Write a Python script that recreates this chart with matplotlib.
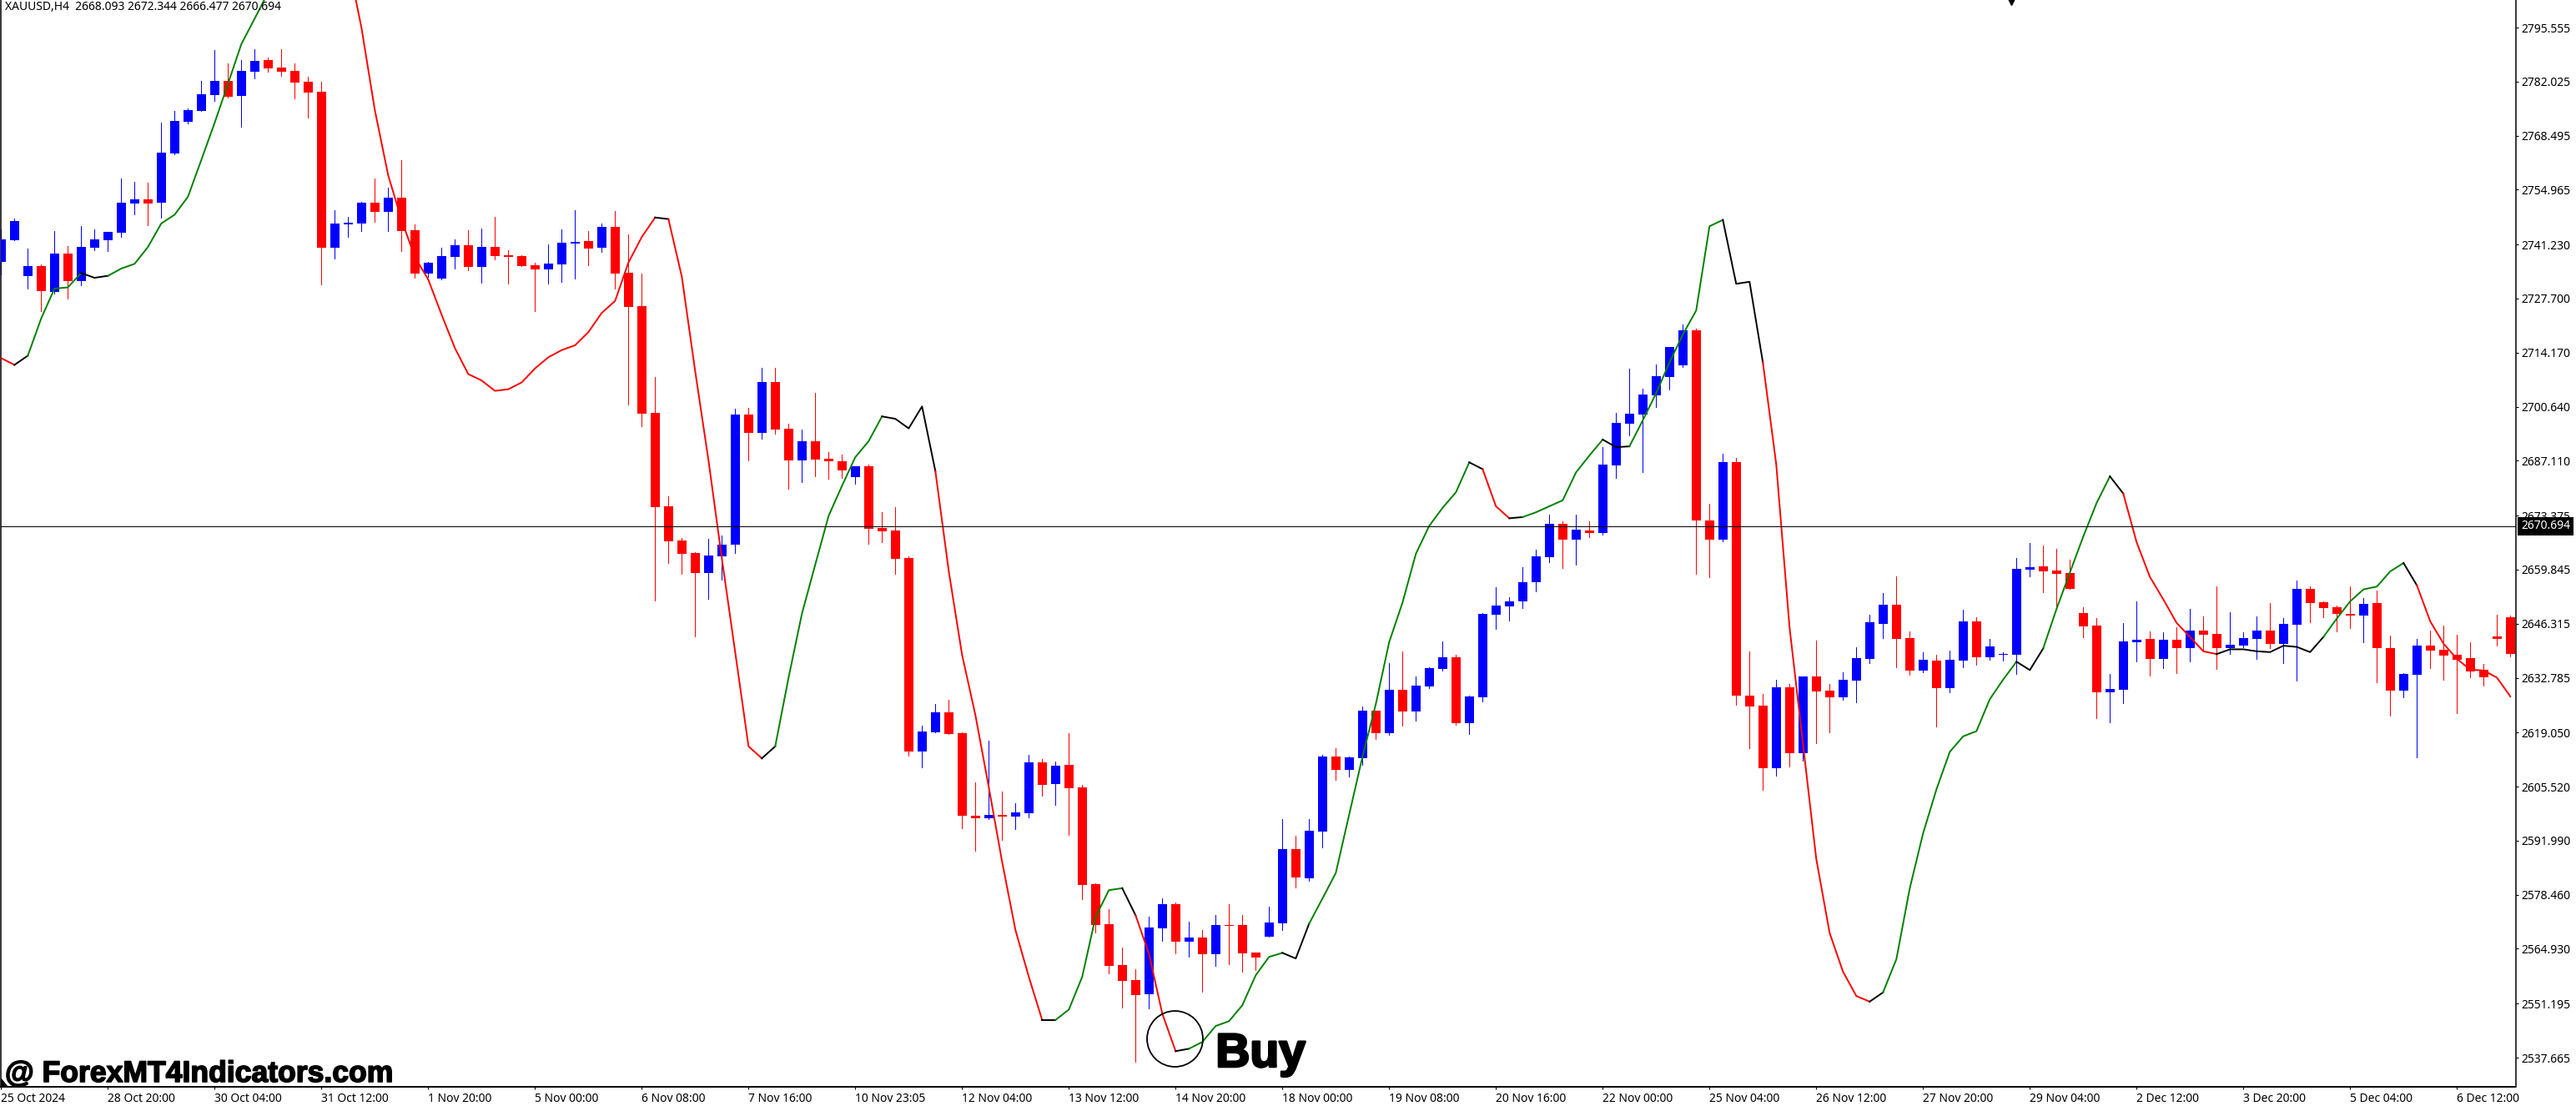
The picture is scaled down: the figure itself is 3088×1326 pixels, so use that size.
import matplotlib
matplotlib.use('Agg')
import matplotlib.pyplot as plt
import matplotlib.patheffects as pe

# XAUUSD H4 bars
opens = [2736.9,2742.3,2733.4,2735.8,2729.4,2739.0,2732.1,2740.5,2742.3,2744.2,
         2751.5,2752.6,2751.7,2764.0,2772.0,2774.7,2778.7,2782.2,2778.4,2784.5,
         2787.4,2785.6,2784.7,2781.9,2779.5,2740.5,2746.2,2746.5,2751.7,2749.4,
         2753.0,2744.9,2734.0,2732.7,2738.1,2741.0,2735.6,2740.6,2738.6,2738.3,
         2736.1,2735.0,2736.3,2741.5,2742.2,2740.4,2745.7,2734.2,2725.9,2699.1,
         2675.7,2667.1,2664.1,2659.0,2663.2,2666.1,2698.7,2694.1,2706.8,2695.2,
         2687.2,2692.0,2687.6,2687.0,2683.0,2685.7,2670.2,2669.6,2662.8,2614.3,
         2619.1,2624.1,2618.9,2598.3,2597.6,2598.4,2598.1,2598.8,2611.6,2606.2,
         2610.9,2605.3,2581.1,2571.1,2560.8,2557.1,2553.6,2570.1,2576.1,2566.7,
         2567.8,2563.6,2570.9,2570.9,2564.0,2567.9,2571.3,2589.8,2582.6,2594.3,
         2613.1,2609.7,2612.6,2624.5,2618.9,2629.8,2624.3,2630.5,2634.9,2638.0,
         2621.4,2627.9,2648.5,2650.6,2652.0,2656.6,2662.9,2671.4,2667.4,2669.6,
         2669.0,2685.9,2696.4,2698.7,2703.5,2708.1,2711.0,2719.8,2672.1,2667.4,
         2686.7,2628.4,2625.8,2610.2,2630.3,2613.8,2633.2,2629.5,2627.8,2632.0,
         2637.4,2646.3,2651.0,2642.7,2634.6,2637.1,2630.2,2637.1,2646.9,2637.9,
         2638.5,2638.5,2659.8,2660.7,2659.6,2659.0,2649.0,2645.8,2629.1,2629.8,
         2641.7,2642.5,2637.5,2642.3,2640.2,2644.6,2643.8,2640.2,2640.8,2642.5,
         2644.6,2641.2,2646.0,2655.0,2651.7,2650.4,2648.8,2648.3,2651.5,2640.2,
         2629.5,2633.5,2640.8,2639.8,2638.5,2637.7,2634.8,2643.1,2648.0]
highs = [2745.1,2747.7,2740.2,2736.2,2744.7,2740.8,2745.9,2745.0,2744.4,2757.8,
         2757.0,2756.7,2771.8,2774.7,2775.4,2782.2,2790.0,2786.6,2787.4,2790.2,
         2788.0,2790.2,2786.6,2783.2,2781.9,2749.9,2748.2,2751.9,2757.8,2755.5,
         2762.4,2746.3,2736.9,2740.5,2742.5,2744.9,2745.2,2748.2,2739.8,2738.6,
         2736.7,2741.3,2745.0,2749.9,2744.6,2746.5,2749.6,2743.8,2733.9,2708.1,
         2678.2,2667.8,2664.3,2667.6,2668.4,2700.2,2700.4,2710.4,2710.4,2696.3,
         2695.0,2704.1,2689.3,2688.7,2685.7,2686.1,2674.3,2675.5,2663.2,2620.8,
         2626.2,2627.3,2619.1,2606.6,2617.0,2604.3,2601.4,2613.5,2612.4,2611.8,
         2618.9,2605.9,2581.4,2574.8,2565.2,2559.8,2573.0,2577.6,2576.5,2571.7,
         2569.7,2573.4,2576.1,2573.4,2564.0,2575.5,2597.4,2593.3,2597.4,2613.5,
         2615.2,2613.0,2625.6,2624.5,2636.4,2639.4,2633.1,2635.5,2641.8,2638.6,
         2628.3,2648.9,2655.4,2652.9,2660.4,2664.8,2673.6,2671.9,2673.6,2671.9,
         2690.5,2699.1,2710.2,2705.1,2711.3,2715.6,2721.3,2720.2,2676.3,2688.8,
         2687.8,2639.3,2628.7,2632.2,2631.3,2633.2,2642.0,2631.3,2634.1,2640.5,
         2648.5,2653.9,2658.1,2644.4,2639.2,2638.5,2639.6,2649.8,2647.9,2642.5,
         2639.2,2662.7,2666.5,2665.9,2665.0,2662.3,2650.4,2647.7,2633.7,2646.5,
         2651.9,2644.4,2644.2,2645.4,2650.0,2648.1,2655.6,2649.2,2644.2,2648.1,
         2651.5,2647.7,2657.1,2655.6,2651.9,2650.8,2655.6,2652.7,2654.6,2643.3,
         2633.9,2642.5,2644.6,2645.8,2643.5,2641.7,2636.2,2648.6,2648.3]
lows = [2733.8,2742.3,2730.2,2724.5,2729.0,2727.7,2731.1,2739.9,2739.6,2743.2,
        2748.8,2746.1,2747.9,2763.8,2771.5,2774.7,2777.2,2778.0,2770.8,2782.8,
        2784.5,2783.4,2777.8,2773.0,2731.2,2737.8,2743.2,2744.7,2746.9,2744.7,
        2739.5,2732.9,2733.1,2732.5,2735.3,2734.8,2731.7,2737.5,2731.4,2735.8,
        2724.5,2731.4,2731.9,2732.7,2736.1,2739.4,2730.3,2701.1,2695.7,2652.1,
        2661.5,2658.8,2643.2,2652.6,2657.3,2664.1,2687.2,2692.6,2693.9,2680.0,
        2681.7,2683.2,2682.6,2682.8,2681.3,2666.3,2666.7,2658.8,2613.2,2610.4,
        2619.1,2618.6,2595.1,2589.4,2597.3,2592.2,2594.9,2597.9,2603.3,2600.9,
        2593.4,2577.3,2569.0,2558.8,2550.2,2536.7,2550.0,2566.9,2563.7,2562.9,
        2554.2,2560.7,2561.1,2559.2,2559.6,2567.9,2569.7,2580.3,2582.0,2590.3,
        2607.2,2608.0,2610.9,2617.4,2618.5,2620.8,2622.0,2630.1,2634.5,2621.0,
        2618.7,2626.8,2645.1,2647.0,2650.3,2654.3,2661.7,2660.2,2661.0,2667.9,
        2668.6,2682.8,2693.4,2684.2,2700.5,2704.9,2710.6,2658.7,2657.9,2666.9,
        2625.9,2615.2,2604.8,2608.2,2610.6,2612.1,2616.3,2619.2,2627.2,2626.7,
        2636.4,2642.8,2635.3,2633.6,2634.1,2620.6,2629.1,2635.4,2636.0,2637.3,
        2637.1,2633.7,2658.2,2654.2,2650.4,2655.0,2642.9,2622.7,2621.6,2626.4,
        2636.9,2633.3,2635.2,2633.9,2636.9,2639.6,2635.0,2638.7,2640.4,2637.5,
        2640.2,2636.4,2632.1,2646.7,2647.9,2644.4,2645.2,2641.7,2631.6,2623.3,
        2627.9,2612.9,2635.2,2632.3,2623.9,2632.9,2630.8,2640.8,2638.1]
closes = [2742.5,2747.1,2735.8,2729.6,2739.0,2732.1,2740.6,2742.5,2744.4,2751.7,
          2752.6,2751.5,2764.2,2772.2,2774.9,2778.9,2782.2,2778.3,2784.7,2787.2,
          2785.3,2784.5,2781.8,2779.2,2740.5,2746.5,2746.7,2751.7,2749.4,2753.0,
          2744.7,2734.0,2736.6,2738.3,2741.0,2735.6,2740.6,2738.3,2738.1,2735.8,
          2735.0,2736.5,2741.7,2741.9,2740.2,2745.7,2733.9,2725.6,2698.9,2675.5,
          2666.9,2663.8,2659.0,2663.4,2666.1,2698.7,2694.1,2706.8,2695.0,2687.2,
          2692.0,2687.4,2687.0,2684.7,2685.7,2670.0,2669.4,2662.6,2614.3,2619.3,
          2624.1,2618.7,2598.3,2597.6,2598.4,2598.1,2599.1,2611.6,2605.9,2610.8,
          2605.1,2580.9,2570.9,2560.7,2556.9,2553.3,2570.2,2576.1,2566.7,2567.8,
          2563.6,2570.9,2570.7,2563.7,2562.7,2571.5,2589.8,2582.8,2594.5,2613.1,
          2609.7,2612.8,2624.5,2618.9,2629.8,2624.4,2630.8,2635.1,2638.0,2621.4,
          2628.1,2648.7,2650.8,2652.0,2656.8,2663.1,2671.4,2667.4,2669.8,2669.0,
          2686.1,2696.6,2698.9,2703.7,2708.2,2715.6,2719.8,2672.1,2667.4,2686.7,
          2628.2,2625.5,2610.2,2630.3,2613.8,2633.2,2629.3,2627.8,2632.2,2637.6,
          2646.6,2651.0,2642.4,2634.6,2637.3,2630.2,2637.3,2646.9,2637.9,2640.6,
          2638.7,2660.0,2660.4,2659.4,2658.8,2655.0,2645.6,2629.1,2630.0,2641.9,
          2642.3,2637.5,2642.3,2640.2,2644.6,2643.5,2640.2,2641.0,2642.7,2644.6,
          2641.2,2646.3,2655.0,2651.5,2650.2,2648.8,2648.3,2651.3,2640.2,2629.5,
          2633.7,2640.8,2639.6,2638.3,2637.3,2634.4,2632.9,2642.5,2638.7]

# indicator line, one value per bar (21-26 run off the top of the chart, guessed)
indicator = [2712.8,2711.1,2713.4,2722.7,2730.2,2730.5,2734.1,2732.9,2733.4,2735.2,
             2736.4,2740.6,2746.5,2748.7,2753.2,2762.4,2771.7,2781.5,2791.4,2797.8,
             2804.3,2812.0,2817.0,2820.0,2823.0,2825.0,2812.0,2795.5,2774.9,2758.6,
             2747.4,2738.1,2732.5,2723.7,2715.3,2708.8,2707.2,2704.6,2705.0,2706.7,
             2710.2,2713.0,2714.8,2716.0,2719.3,2724.1,2727.1,2736.7,2743.1,2748.0,
             2747.6,2733.2,2709.6,2687.2,2662.7,2639.2,2615.6,2612.6,2615.6,2632.8,
             2648.8,2661.1,2673.3,2680.8,2688.0,2692.0,2698.2,2697.6,2695.2,2700.7,
             2684.5,2659.5,2638.5,2623.4,2605.4,2586.7,2569.6,2557.9,2547.1,2547.1,
             2549.7,2557.9,2572.9,2579.6,2580.1,2573.3,2563.7,2548.7,2539.3,2539.9,
             2541.6,2545.6,2546.8,2550.8,2558.3,2562.9,2563.9,2562.5,2571.2,2577.5,
             2583.9,2598.5,2613.0,2626.2,2641.7,2651.6,2663.8,2670.8,2675.3,2679.2,
             2686.7,2685.0,2675.7,2672.7,2673.0,2674.2,2675.7,2677.2,2684.2,2688.4,
             2692.4,2690.5,2690.7,2697.2,2704.0,2711.7,2718.7,2724.7,2745.8,2747.4,
             2731.4,2731.9,2711.7,2686.2,2645.3,2616.3,2587.4,2568.9,2559.2,2553.1,
             2551.7,2554.0,2562.3,2580.0,2593.8,2604.8,2614.2,2618.1,2619.4,2627.4,
             2632.3,2636.8,2634.7,2640.1,2650.0,2659.1,2668.1,2676.5,2683.2,2678.9,
             2666.7,2658.0,2652.4,2646.5,2643.0,2639.4,2638.7,2639.9,2639.9,2639.4,
             2639.2,2640.8,2640.5,2639.2,2643.0,2647.6,2651.9,2654.9,2655.6,2659.4,
             2661.5,2655.9,2646.9,2641.3,2637.5,2634.8,2634.6,2632.8,2628.1]
# bar where the indicator changes state, and the state it goes to
turn_bars = [0,1,2,6,8,23,25,49,50,57,58,66,70,78,79,84,85,88,89,96,98,110,111,113,114,
             120,122,129,132,140,141,151,153,158,159,166,174,180,181,188]
turn_states = ['dn','flat','up','flat','up','flat','dn','flat','dn','flat','up','flat','dn',
               'flat','up','flat','dn','flat','up','flat','up','flat','dn','flat','up',
               'flat','up','flat','dn','flat','up','flat','up','flat','dn','flat','up',
               'flat','dn','dn']

price_ticks = [2795.555,2782.025,2768.495,2754.965,2741.230,2727.700,2714.170,2700.640,
               2687.110,2673.375,2659.845,2646.315,2632.785,2619.050,2605.520,2591.990,
               2578.460,2564.930,2551.195,2537.665]
date_labels = ['25 Oct 2024','28 Oct 20:00','30 Oct 04:00','31 Oct 12:00','1 Nov 20:00',
               '5 Nov 00:00','6 Nov 08:00','7 Nov 16:00','10 Nov 23:05','12 Nov 04:00',
               '13 Nov 12:00','14 Nov 20:00','18 Nov 00:00','19 Nov 08:00','20 Nov 16:00',
               '22 Nov 00:00','25 Nov 04:00','26 Nov 12:00','27 Nov 20:00','29 Nov 04:00',
               '2 Dec 12:00','3 Dec 20:00','5 Dec 04:00','6 Dec 12:00']
last_price = 2670.694
ohlc_title = 'XAUUSD,H4  2668.093 2672.344 2666.477 2670.694'

plt.rcParams['font.family'] = ['Noto Sans', 'DejaVu Sans']

W, H = 3088, 1326
fig = plt.figure(figsize=(W / 100, H / 100), dpi=100)
ax = fig.add_axes([1 / W, 23 / H, 3014.5 / W, 1303 / H])
ax.set_xlim(-0.02, 188.39)
ax.set_ylim(2530.37, 2802.446)

x = list(range(len(opens)))
colors = ['#0000ff' if c > o else '#ff0000' for o, c in zip(opens, closes)]
bottoms = [min(o, c) for o, c in zip(opens, closes)]
heights = [abs(c - o) for o, c in zip(opens, closes)]

ax.vlines(x, lows, highs, colors=colors, lw=0.72, antialiased=False, zorder=2)
ax.bar(x, heights, bottom=bottoms, width=0.6875, color=colors, linewidth=0,
       antialiased=False, zorder=3)

line_colors = {'up': '#008000', 'dn': '#ff0000', 'flat': '#000000'}
for k in range(len(turn_bars) - 1):
    a, b = turn_bars[k], turn_bars[k + 1]
    ax.plot(x[a:b + 1], indicator[a:b + 1], color=line_colors[turn_states[k]], lw=1.4,
            solid_joinstyle='round', zorder=4)

ax.axhline(last_price, color='black', lw=0.72, antialiased=False, zorder=5)

# buy marker and captions
ax.plot([87.9], [2542.4], 'o', ms=48.2, mfc='none', mec='black', mew=1.3, zorder=6)
ax.text(91.0, 2535.4, 'Buy', fontsize=41, fontweight='bold', family='Liberation Sans',
        va='baseline', ha='left', zorder=7,
        path_effects=[pe.withStroke(linewidth=2.0, foreground='black')])
ax.text(5 / 3014.5, 6 / 1303, '@ ForexMT4Indicators.com', transform=ax.transAxes, fontsize=25.6,
        fontweight='bold', family='Liberation Sans', va='baseline', ha='left', zorder=7,
        path_effects=[pe.withStroke(linewidth=1.2, foreground='black')])
ax.text(5 / 3014.5, 1 - 9 / 1303, ohlc_title, transform=ax.transAxes, fontsize=10,
        va='center', ha='left', zorder=7)

# chart shift triangles of the terminal
ax.plot([150.6], [2802.446], 'v', ms=8, color='black', zorder=7)
ax.fill([0, 0, 8 / 3014.5], [0, 10 / 1303, 0], color='black', transform=ax.transAxes, zorder=7)

ax.spines['top'].set_visible(False)
ax.spines['left'].set_linewidth(1.1)
ax.spines['right'].set_linewidth(1.1)
ax.spines['bottom'].set_linewidth(1.4)

ax.yaxis.tick_right()
ax.set_yticks(price_ticks)
ax.set_yticklabels(['%.3f' % p for p in price_ticks])
ax.tick_params(axis='y', length=2.2, width=0.8, pad=2.6, labelsize=10)

ax.set_xticks(x[::8])
ax.set_xticklabels(date_labels, ha='left')
ax.tick_params(axis='x', length=2.5, width=0.8, pad=2.8, labelsize=10)

# current price box on the scale
ax.annotate('%.3f' % last_price, xy=(1, last_price), xycoords=('axes fraction', 'data'),
            xytext=(4.6, 0), textcoords='offset points', va='center', ha='left',
            fontsize=10, color='white', zorder=10, annotation_clip=False,
            bbox=dict(boxstyle='square,pad=0.26', fc='black', ec='black', lw=0))

fig.savefig('out.png', dpi=100, facecolor='white')
